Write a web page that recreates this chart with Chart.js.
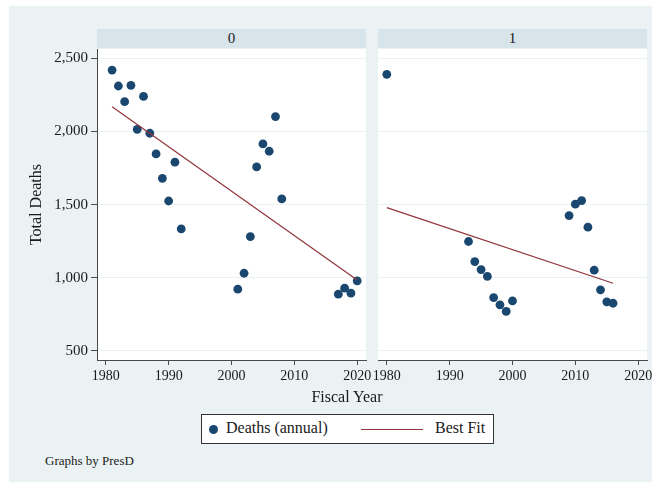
<!DOCTYPE html>
<html>
<head>
<meta charset="utf-8">
<script src="https://cdn.jsdelivr.net/npm/chart.js@4/dist/chart.umd.min.js"></script>
<style>
  html, body { margin: 0; padding: 0; background: #ffffff; }
  #page { position: relative; width: 657px; height: 482px; overflow: hidden; background: #ffffff; font-family: "Liberation Serif", "Times New Roman", serif; color: #1a1a1a; }
  #bg { position: absolute; left: 9px; top: 6px; width: 643px; height: 476px; background: #eaf2f3; }
  .strip { position: absolute; top: 29px; height: 19px; background: #d7e4ea; text-align: center; font-size: 15px; line-height: 19px; color: #1a1a1a; }
  canvas { position: absolute; top: 0; }
  #xtitle { position: absolute; left: 0; width: 694px; top: 388px; text-align: center; font-size: 16px; color: #1a1a1a; }
  #legend { position: absolute; left: 201px; top: 414px; width: 291px; height: 28px; background: #fff; border: 1px solid #333; font-size: 16px; }
  #legend .dot { position: absolute; left: 7px; top: 10px; width: 9px; height: 9px; border-radius: 50%; background: #1a476f; }
  #legend .t1 { position: absolute; left: 24px; top: 4px; }
  #legend .ln { position: absolute; left: 159px; top: 14px; width: 62px; height: 0; border-top: 1.5px solid #90353b; }
  #legend .t2 { position: absolute; left: 233px; top: 4px; }
  #note { position: absolute; left: 45px; top: 453px; font-size: 13px; color: #1a1a1a; }
</style>
</head>
<body>
<div id="page">
  <div id="bg"></div>
  <div class="strip" style="left:97px;width:269px;">0</div>
  <div class="strip" style="left:378px;width:269px;">1</div>
  <canvas id="c0" width="400" height="400" style="left:0;width:400px;height:400px;"></canvas>
  <canvas id="c1" width="307" height="400" style="left:350px;width:307px;height:400px;"></canvas>
  <div id="xtitle">Fiscal Year</div>
  <div id="legend">
    <div class="dot"></div><div class="t1">Deaths (annual)</div>
    <div class="ln"></div><div class="t2">Best Fit</div>
  </div>
  <div id="note">Graphs by PresD</div>
</div>
<script>
// ---- Data ----
const panelLabels = ["0", "1"];

const years0  = [1981, 1982, 1983, 1984, 1985, 1986, 1987, 1988, 1989, 1990, 1991, 1992,
                 2001, 2002, 2003, 2004, 2005, 2006, 2007, 2008, 2017, 2018, 2019, 2020];
const deaths0 = [2420, 2311, 2204, 2316, 2015, 2240, 1988, 1847, 1680, 1525, 1790, 1334,
                 922, 1031, 1282, 1758, 1915, 1865, 2102, 1539, 888, 929, 895, 979];
const fitYears0 = [1981, 2020];
const fit0      = [2170, 985];

const years1  = [1980, 1993, 1994, 1995, 1996, 1997, 1998, 1999, 2000,
                 2009, 2010, 2011, 2012, 2013, 2014, 2015, 2016];
const deaths1 = [2391, 1248, 1111, 1056, 1009, 865, 815, 770, 842,
                 1425, 1503, 1528, 1346, 1052, 918, 836, 826];
const fitYears1 = [1980, 2016];
const fit1      = [1480, 963];

const xTicks = [1980, 1990, 2000, 2010, 2020];
const yTicks = [500, 1000, 1500, 2000, 2500];

// ---- Styling ----
const NAVY = '#1a476f';
const MAROON = '#90353b';
const GRID = '#eaf2f3';
const AXIS = '#4a4a4a';
const TEXT = '#1a1a1a';
const FONT = '"Liberation Serif", "Times New Roman", serif';

const whiteArea = {
  id: 'whiteArea',
  beforeDraw(chart) {
    const a = chart.chartArea;
    const ctx = chart.ctx;
    ctx.save();
    ctx.fillStyle = '#ffffff';
    ctx.fillRect(a.left, a.top, a.right - a.left, a.bottom - a.top);
    ctx.restore();
  }
};

function toPoints(xs, ys) { return xs.map((x, i) => ({ x: x, y: ys[i] })); }

function makeChart(id, years, deaths, fitYears, fit, showY, yWidth, padRight) {
  return new Chart(document.getElementById(id), {
    type: 'scatter',
    data: {
      datasets: [
        { label: 'Deaths (annual)', data: toPoints(years, deaths), backgroundColor: NAVY, borderColor: NAVY,
          pointRadius: 4.4, pointHoverRadius: 4.4, borderWidth: 0, order: 2 },
        { type: 'line', label: 'Best Fit', data: toPoints(fitYears, fit), borderColor: MAROON, borderWidth: 1.2,
          pointRadius: 0, fill: false, tension: 0, order: 1 }
      ]
    },
    options: {
      responsive: false,
      animation: false,
      events: [],
      layout: { padding: { left: 0, right: padRight, top: 49, bottom: 0 } },
      plugins: { legend: { display: false }, tooltip: { enabled: false }, title: { display: false } },
      scales: {
        x: {
          type: 'linear', position: 'bottom', min: 1978.6, max: 2021.4,
          afterBuildTicks(s) { s.ticks = xTicks.map(v => ({ value: v })); },
          afterFit(s) { s.height = 40; },
          grid: { display: true, drawOnChartArea: false, drawTicks: true, tickLength: 5, tickColor: AXIS, lineWidth: 1 },
          border: { display: true, color: AXIS, width: 1 },
          ticks: { color: TEXT, font: { family: FONT, size: 14 }, padding: 3, maxRotation: 0, autoSkip: false,
                   callback: v => String(v) }
        },
        y: {
          type: 'linear', position: 'left', min: 438, max: 2564,
          afterBuildTicks(s) { s.ticks = yTicks.map(v => ({ value: v })); },
          afterFit(s) { s.width = yWidth; },
          grid: { display: true, drawOnChartArea: true, drawTicks: showY, tickLength: 6, color: GRID, tickColor: AXIS, lineWidth: 1 },
          border: { display: showY, color: AXIS, width: 1 },
          ticks: { display: showY, color: TEXT, font: { family: FONT, size: 15 }, padding: 3,
                   callback: v => Number(v).toLocaleString('en-US') },
          title: { display: showY, text: 'Total Deaths', color: TEXT, font: { family: FONT, size: 16 },
                   padding: { top: 27, bottom: 0 } }
        }
      }
    },
    plugins: [whiteArea]
  });
}

makeChart('c0', years0, deaths0, fitYears0, fit0, true, 97, 34);
makeChart('c1', years1, deaths1, fitYears1, fit1, false, 28, 10);
</script>
</body>
</html>
